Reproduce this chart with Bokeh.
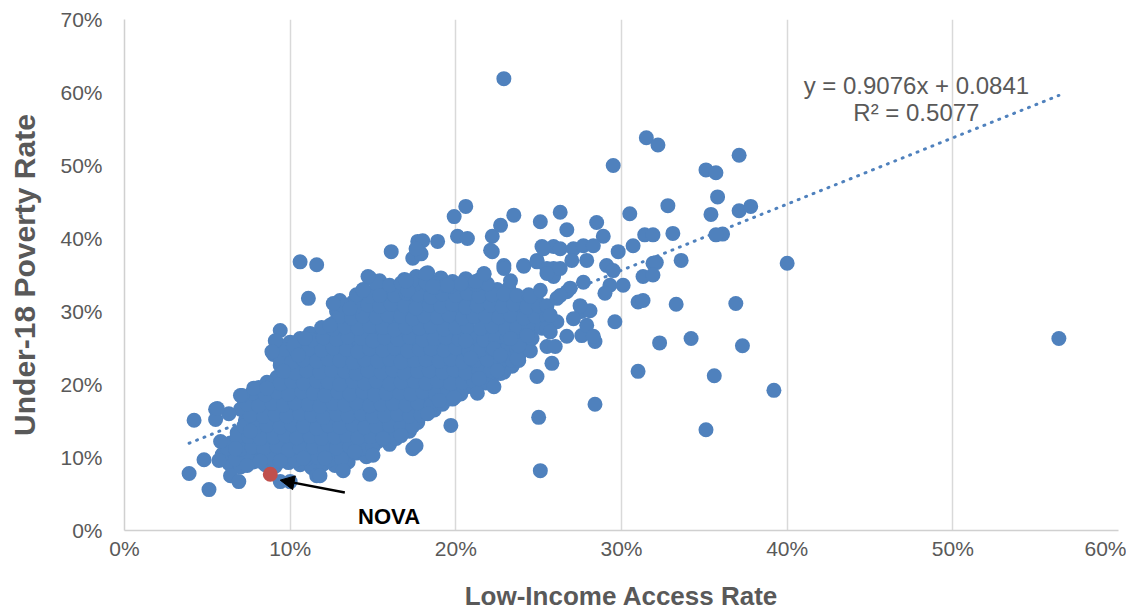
from bokeh.plotting import figure
from bokeh.models import NumeralTickFormatter, FixedTicker, Arrow, NormalHead, Label
from bokeh.embed import file_html
from bokeh.resources import INLINE
import numpy as np

# ---- data (percent values) ----
# dense core of counties, read row by row
core_x = [
    6.3, 7.0, 7.8, 8.5, 9.1, 9.9, 10.6, 11.3, 12.0, 12.7, 13.5,
    5.9, 6.6, 7.3, 8.1, 8.8, 9.6, 10.3, 11.0, 11.8, 12.5, 13.2, 14.0, 14.6,
    6.4, 7.1, 7.9, 8.6, 9.4, 10.1, 10.8, 11.6, 12.3, 13.1, 13.8, 14.6, 15.3, 16.0,
    6.8, 7.5, 8.3, 9.0, 9.8, 10.5, 11.2, 12.0, 12.7, 13.5, 14.2, 14.9, 15.7, 16.4, 17.2,
    7.3, 8.1, 8.8, 9.5, 10.3, 11.0, 11.7, 12.5, 13.2, 14.0, 14.7, 15.4, 16.2, 16.9, 17.7,
    7.0, 7.7, 8.5, 9.2, 9.9, 10.7, 11.4, 12.2, 12.9, 13.6, 14.4, 15.1, 15.9, 16.6, 17.3, 18.1, 18.7,
    7.2, 8.0, 8.7, 9.5, 10.2, 10.9, 11.7, 12.4, 13.2, 13.9, 14.6, 15.4, 16.1, 16.9, 17.6, 18.3, 19.1, 19.8,
    8.1, 8.9, 9.6, 10.4, 11.1, 11.8, 12.6, 13.3, 14.1, 14.8, 15.5, 16.3, 17.0, 17.8, 18.5, 19.2, 20.0, 20.7,
    9.2, 9.9, 10.7, 11.4, 12.2, 12.9, 13.6, 14.4, 15.1, 15.8, 16.6, 17.3, 18.1, 18.8, 19.5, 20.3, 21.0, 21.7, 22.3,
    9.4, 10.1, 10.9, 11.6, 12.3, 13.1, 13.8, 14.6, 15.3, 16.0, 16.8, 17.5, 18.3, 19.0, 19.7, 20.5, 21.2, 22.0, 22.7, 23.4,
    9.0, 9.7, 10.5, 11.2, 12.0, 12.7, 13.4, 14.2, 14.9, 15.7, 16.4, 17.1, 17.9, 18.6, 19.4, 20.1, 20.8, 21.6, 22.3, 23.1, 23.8,
    9.3, 10.0, 10.8, 11.5, 12.3, 13.0, 13.7, 14.5, 15.2, 16.0, 16.7, 17.4, 18.2, 18.9, 19.7, 20.4, 21.1, 21.9, 22.6, 23.4, 24.1,
    11.2, 11.9, 12.7, 13.4, 14.2, 14.9, 15.6, 16.4, 17.1, 17.9, 18.6, 19.3, 20.1, 20.8, 21.6, 22.3, 23.0, 23.8, 24.5,
    12.6, 13.3, 14.1, 14.8, 15.5, 16.3, 17.0, 17.8, 18.5, 19.2, 20.0, 20.7, 21.5, 22.2, 22.9, 23.7, 24.4, 25.2, 25.9,
    12.8, 13.5, 14.3, 15.0, 15.8, 16.5, 17.2, 18.0, 18.7, 19.5, 20.2, 20.9, 21.7, 22.4, 23.2, 23.9, 24.7, 25.4,
    13.0, 13.8, 14.5, 15.3, 16.0, 16.7, 17.5, 18.2, 19.0, 19.7, 20.4, 21.2, 21.9, 22.7, 23.4, 24.1, 24.9,
    14.4, 15.1, 15.9, 16.6, 17.4, 18.1, 18.8, 19.6, 20.3, 21.1, 21.8, 22.5, 23.2,
    14.8, 15.4, 16.9, 17.6, 18.4, 19.1, 19.8, 20.6, 21.4,
]
core_y = [
    9.2, 8.7, 9.4, 9.0, 8.8, 9.3, 9.0, 8.6, 9.1, 8.9, 9.4,
    10.4, 10.8, 10.2, 10.6, 10.9, 10.3, 10.7, 10.5, 10.2, 10.8, 10.4, 10.6, 10.1,
    12.0, 11.8, 12.3, 11.9, 12.2, 11.7, 12.1, 12.4, 11.8, 12.0, 12.3, 11.9, 12.2, 11.8,
    13.4, 13.7, 13.3, 13.6, 13.8, 13.2, 13.5, 13.7, 13.4, 13.6, 13.3, 13.8, 13.5, 13.2, 13.6,
    15.1, 14.8, 15.3, 14.9, 15.2, 15.0, 14.7, 15.3, 15.0, 14.8, 15.2, 14.9, 15.1, 15.3, 14.8,
    16.6, 16.3, 16.8, 16.4, 16.7, 16.2, 16.6, 16.9, 16.3, 16.5, 16.8, 16.4, 16.6, 16.2, 16.7, 16.4, 16.5,
    18.0, 18.3, 17.8, 18.1, 18.4, 17.9, 18.2, 17.7, 18.0, 18.3, 17.9, 18.1, 18.4, 17.8, 18.2, 17.9, 18.1, 18.0,
    19.6, 19.3, 19.7, 19.4, 19.8, 19.5, 19.2, 19.6, 19.4, 19.7, 19.3, 19.5, 19.8, 19.4, 19.6, 19.3, 19.5, 19.7,
    21.0, 21.3, 20.8, 21.2, 20.9, 21.4, 21.1, 20.8, 21.2, 21.0, 21.3, 20.9, 21.1, 21.4, 20.8, 21.0, 21.2, 20.9, 21.3,
    22.6, 22.3, 22.8, 22.4, 22.7, 22.2, 22.5, 22.8, 22.4, 22.6, 22.3, 22.7, 22.5, 22.2, 22.6, 22.8, 22.4, 22.6, 22.3, 22.5,
    24.1, 23.8, 24.2, 23.9, 24.3, 24.0, 23.7, 24.1, 24.3, 23.9, 24.0, 24.2, 23.8, 24.1, 24.3, 23.9, 24.0, 24.2, 23.8, 24.1, 23.9,
    25.5, 25.8, 25.3, 25.6, 25.4, 25.7, 25.2, 25.6, 25.8, 25.4, 25.5, 25.3, 25.7, 25.5, 25.2, 25.6, 25.4, 25.8, 25.3, 25.5, 25.6,
    27.0, 26.8, 27.3, 26.9, 27.2, 27.0, 26.7, 27.1, 27.3, 26.9, 27.0, 27.2, 26.8, 27.1, 27.3, 26.9, 27.0, 27.2, 26.8,
    28.4, 28.7, 28.3, 28.6, 28.8, 28.4, 28.5, 28.2, 28.7, 28.4, 28.6, 28.3, 28.8, 28.5, 28.2, 28.6, 28.4, 28.7, 28.5,
    30.0, 29.8, 30.2, 29.9, 30.3, 29.7, 30.1, 30.0, 29.8, 30.2, 29.9, 30.1, 29.7, 30.3, 30.0, 29.8, 30.1, 29.9,
    31.5, 31.3, 31.7, 31.4, 31.6, 31.2, 31.5, 31.8, 31.4, 31.6, 31.3, 31.5, 31.7, 31.4, 31.2, 31.6, 31.4,
    33.0, 32.8, 33.2, 32.9, 33.1, 32.7, 33.0, 33.3, 32.9, 33.1, 32.8, 33.0, 33.2,
    34.6, 34.2, 34.4, 34.8, 34.3, 34.6, 34.1, 34.5, 34.3,
]

# second, interleaved set of counties in the dense core
core2_x = [
    6.7, 7.4, 8.2, 8.9, 9.6, 10.3, 11.0, 11.7, 12.4, 13.1,
    6.2, 7.0, 7.7, 8.4, 9.2, 9.9, 10.6, 11.4, 12.1, 12.8, 13.6, 14.3, 15.0,
    6.8, 7.5, 8.2, 9.0, 9.7, 10.4, 11.2, 11.9, 12.7, 13.4, 14.1, 14.9, 15.6, 16.4,
    7.2, 7.9, 8.6, 9.4, 10.1, 10.8, 11.6, 12.3, 13.0, 13.8, 14.5, 15.2, 16.0, 16.7, 17.4,
    7.6, 8.4, 9.1, 9.8, 10.6, 11.3, 12.0, 12.8, 13.5, 14.3, 15.0, 15.7, 16.5, 17.2, 17.9,
    7.4, 8.1, 8.9, 9.6, 10.3, 11.1, 11.8, 12.6, 13.3, 14.0, 14.8, 15.5, 16.2, 17.0, 17.7, 18.5, 19.2,
    7.7, 8.5, 9.2, 9.9, 10.7, 11.4, 12.1, 12.9, 13.6, 14.4, 15.1, 15.8, 16.6, 17.3, 18.0, 18.8, 19.5, 20.3,
    8.6, 9.4, 10.1, 10.8, 11.6, 12.3, 13.0, 13.8, 14.5, 15.2, 16.0, 16.7, 17.5, 18.2, 18.9, 19.7, 20.4, 21.1, 21.8,
    9.6, 10.3, 11.0, 11.8, 12.5, 13.3, 14.0, 14.7, 15.5, 16.2, 16.9, 17.7, 18.4, 19.2, 19.9, 20.6, 21.4, 22.1, 22.9,
    9.4, 10.1, 10.8, 11.6, 12.3, 13.0, 13.8, 14.5, 15.3, 16.0, 16.7, 17.5, 18.2, 19.0, 19.7, 20.4, 21.2, 21.9, 22.7, 23.4,
    9.7, 10.4, 11.1, 11.9, 12.6, 13.4, 14.1, 14.8, 15.6, 16.3, 17.1, 17.8, 18.5, 19.3, 20.0, 20.8, 21.5, 22.2, 23.0, 23.7, 24.5,
    10.6, 11.3, 12.0, 12.8, 13.5, 14.3, 15.0, 15.7, 16.5, 17.2, 18.0, 18.7, 19.4, 20.2, 20.9, 21.7, 22.4, 23.1, 23.9, 24.6,
    11.9, 12.6, 13.3, 14.1, 14.8, 15.6, 16.3, 17.0, 17.8, 18.5, 19.3, 20.0, 20.7, 21.5, 22.2, 23.0, 23.7, 24.4, 25.2,
    13.0, 13.7, 14.4, 15.2, 15.9, 16.7, 17.4, 18.1, 18.9, 19.6, 20.4, 21.1, 21.8, 22.6, 23.3, 24.1, 24.8, 25.5,
    13.2, 13.9, 14.7, 15.4, 16.1, 16.9, 17.6, 18.4, 19.1, 19.8, 20.6, 21.3, 22.1, 22.8, 23.5, 24.3, 25.0,
    14.0, 14.8, 15.5, 16.3, 17.0, 17.7, 18.5, 19.2, 20.0, 20.7, 21.4, 22.2, 22.9, 23.7, 24.4,
    15.2, 16.0, 16.7, 17.5, 18.2, 18.9, 19.7, 20.4, 21.2, 21.9,
]
core2_y = [
    9.8, 10.0, 9.7, 9.9, 10.1, 9.6, 9.9, 10.0, 9.7, 9.8,
    11.3, 11.1, 11.4, 11.2, 11.5, 11.0, 11.3, 11.4, 11.1, 11.3, 11.5, 11.2, 11.4,
    12.8, 12.9, 12.6, 12.8, 13.0, 12.7, 12.9, 12.6, 12.8, 13.0, 12.7, 12.9, 12.8, 12.6,
    14.3, 14.1, 14.4, 14.2, 14.5, 14.3, 14.0, 14.4, 14.2, 14.5, 14.1, 14.3, 14.4, 14.2, 14.3,
    15.8, 15.6, 15.9, 15.7, 16.0, 15.8, 15.5, 15.9, 15.7, 16.0, 15.6, 15.8, 15.9, 15.7, 15.8,
    17.3, 17.1, 17.4, 17.2, 17.5, 17.3, 17.0, 17.4, 17.2, 17.5, 17.1, 17.3, 17.4, 17.2, 17.5, 17.1, 17.3,
    18.8, 18.6, 18.9, 18.7, 19.0, 18.8, 18.5, 18.9, 18.7, 19.0, 18.6, 18.8, 18.9, 18.7, 19.0, 18.6, 18.8, 18.7,
    20.3, 20.1, 20.4, 20.2, 20.5, 20.3, 20.0, 20.4, 20.2, 20.5, 20.1, 20.3, 20.4, 20.2, 20.5, 20.1, 20.3, 20.4, 20.2,
    21.8, 21.6, 21.9, 21.7, 22.0, 21.8, 21.5, 21.9, 21.7, 22.0, 21.6, 21.8, 21.9, 21.7, 22.0, 21.6, 21.8, 21.9, 21.7,
    23.3, 23.1, 23.4, 23.2, 23.5, 23.3, 23.0, 23.4, 23.2, 23.5, 23.1, 23.3, 23.4, 23.2, 23.5, 23.1, 23.3, 23.4, 23.2, 23.3,
    24.8, 24.6, 24.9, 24.7, 25.0, 24.8, 24.5, 24.9, 24.7, 25.0, 24.6, 24.8, 24.9, 24.7, 25.0, 24.6, 24.8, 24.9, 24.7, 24.8, 24.6,
    26.3, 26.1, 26.4, 26.2, 26.5, 26.3, 26.0, 26.4, 26.2, 26.5, 26.1, 26.3, 26.4, 26.2, 26.5, 26.1, 26.3, 26.4, 26.2, 26.3,
    27.8, 27.6, 27.9, 27.7, 28.0, 27.8, 27.5, 27.9, 27.7, 28.0, 27.6, 27.8, 27.9, 27.7, 28.0, 27.6, 27.8, 27.9, 27.7,
    29.3, 29.1, 29.4, 29.2, 29.5, 29.3, 29.0, 29.4, 29.2, 29.5, 29.1, 29.3, 29.4, 29.2, 29.5, 29.1, 29.3, 29.2,
    30.8, 30.6, 30.9, 30.7, 31.0, 30.8, 30.5, 30.9, 30.7, 31.0, 30.6, 30.8, 30.9, 30.7, 31.0, 30.6, 30.8,
    32.3, 32.1, 32.4, 32.2, 32.5, 32.3, 32.0, 32.4, 32.2, 32.5, 32.1, 32.3, 32.4, 32.2, 32.3,
    33.8, 33.6, 33.9, 33.7, 34.0, 33.8, 33.5, 33.9, 33.7, 33.8,
]

# lower-left edge of the cloud
low_x = [4.2, 5.5, 5.5, 6.3, 5.8, 4.8, 5.7, 3.9, 5.1, 6.7, 6.4, 6.9, 7.1, 7.8, 8.6, 7.6,
         7.4, 9.4, 10.0, 8.2, 9.4, 11.6, 13.2, 14.8, 13.9, 12.1, 10.8, 7.0, 5.6, 11.8,
         15.6, 16.7, 15.0, 17.4, 17.6, 19.7, 19.9, 19.0, 18.3, 21.3, 22.3, 22.7, 23.8,
         24.9, 25.8, 25.0, 25.1, 28.4, 21.4, 22.5, 23.7]
low_y = [15.1, 16.6, 15.2, 16.0, 12.2, 9.7, 9.6, 7.8, 5.6, 11.2, 7.5, 6.7, 18.5, 19.5, 19.5, 13.6,
         8.9, 6.7, 6.7, 9.5, 9.5, 7.5, 8.2, 7.7, 10.8, 9.9, 9.9, 18.5, 16.7, 7.5,
         12.6, 13.0, 10.3, 11.2, 11.6, 14.4, 18.2, 17.8, 16.0, 18.8, 19.7, 21.5, 23.3,
         21.1, 22.9, 15.5, 8.2, 17.3, 20.8, 21.9, 23.6]

# upper-left edge and upper band of the cloud
up_x = [10.6, 11.6, 11.1, 16.1, 9.4, 9.1, 8.9, 10.2, 10.5, 9.6, 14.7, 14.4, 12.6, 12.4,
        10.9, 13.6, 19.9, 20.6, 20.1, 20.7, 17.7, 18.9, 17.4, 17.9, 18.3, 18.0, 17.6,
        17.3, 17.1, 18.8, 22.2, 22.2, 22.7, 23.5, 22.9, 21.7, 21.2, 24.1, 25.1, 26.3,
        25.2, 25.9, 24.9, 25.9, 19.4, 20.3, 15.4, 22.1, 18.2, 17.0, 18.6, 19.5, 21.7,
        23.3, 24.1, 24.9, 25.5, 25.9, 22.9, 24.5, 25.5, 25.1, 20.6, 20.9, 22.3, 22.7,
        23.8, 23.3, 24.3]
up_y = [36.8, 36.4, 31.8, 38.2, 27.4, 26.0, 24.5, 25.3, 24.0, 21.8, 34.8, 32.9, 31.1, 28.1,
        26.3, 30.4, 43.0, 44.4, 40.3, 40.0, 39.6, 39.6, 37.3, 37.9, 35.3, 39.7, 38.6,
        34.1, 32.9, 33.4, 40.3, 38.2, 41.8, 43.2, 36.3, 35.1, 34.1, 36.3, 42.3, 43.6,
        38.9, 38.9, 37.0, 35.9, 33.6, 33.8, 32.2, 38.4, 35.2, 34.2, 33.4, 33.6, 35.2,
        34.2, 36.2, 36.8, 35.9, 34.8, 35.9, 32.1, 30.8, 32.9, 26.0, 23.6, 24.9, 24.0,
        25.3, 26.3, 26.7]

# right side of the cloud and outliers
right_x = [28.5, 30.5, 32.8, 26.7, 31.4, 33.1, 28.9, 25.3, 26.3, 27.1, 27.7, 28.3, 27.0,
           27.9, 29.8, 30.7, 31.9, 32.1, 33.6, 29.1, 29.5, 31.3, 29.3, 30.1, 29.0, 27.7,
           31.0, 31.3, 33.3, 29.6, 32.3, 34.2, 31.0, 28.4, 27.6, 26.7, 25.5, 26.0, 27.9,
           27.6, 27.1, 28.1, 26.7, 26.1, 27.5, 26.1, 25.5, 26.9, 26.3, 25.7, 28.3, 25.7,
           31.9, 22.9, 29.5, 31.5, 32.2, 35.1, 35.7, 37.1, 35.8, 35.4, 37.1, 37.8, 36.1,
           35.7, 31.9, 40.0, 36.9, 37.3, 35.6, 39.2, 35.1, 56.4, 25.5, 26.3]
right_y = [42.2, 43.4, 44.5, 41.2, 40.5, 40.7, 40.3, 38.6, 38.6, 38.6, 39.0, 39.0, 37.0,
           37.0, 38.2, 39.0, 36.6, 36.7, 37.0, 36.3, 35.6, 34.8, 33.6, 33.6, 32.5, 34.0,
           31.3, 31.5, 31.0, 28.6, 25.7, 26.3, 21.8, 25.9, 26.7, 26.6, 25.2, 25.2, 28.1,
           30.0, 29.0, 30.1, 32.7, 31.8, 30.8, 28.6, 27.7, 33.2, 32.2, 29.5, 26.6, 27.2,
           35.0, 61.9, 50.0, 53.8, 52.8, 49.4, 49.0, 51.4, 45.7, 43.3, 43.8, 44.4, 40.6,
           40.5, 40.5, 36.6, 31.1, 25.3, 21.2, 19.2, 13.8, 26.3, 35.2, 35.9]

nova_x = [8.8]
nova_y = [7.7]

slope, intercept = 0.9076, 0.0841
x_ticks = [0, 0.1, 0.2, 0.3, 0.4, 0.5, 0.6]
y_ticks = [0, 0.1, 0.2, 0.3, 0.4, 0.5, 0.6, 0.7]

# ---- build ----
blue = "#4F81BD"
grey_txt = "#595959"
bx = np.array(core_x + core2_x + low_x + up_x + right_x) / 100.0
by = np.array(core_y + core2_y + low_y + up_y + right_y) / 100.0
nx = np.array(nova_x) / 100.0
ny = np.array(nova_y) / 100.0
all_x = np.concatenate([bx, nx])

p = figure(frame_width=994, frame_height=511, x_range=(0, 0.6), y_range=(0, 0.7),
           output_backend="svg", toolbar_location=None,
           min_border_left=124, min_border_right=8, min_border_top=19, min_border_bottom=60)
p.background_fill_color = "white"
p.border_fill_color = "white"
p.outline_line_color = None

# trendline (drawn beneath points)
tx = np.array([all_x.min(), all_x.max()])
p.line(tx, slope * tx + intercept, line_color=blue, line_width=3,
       line_dash="1 7", line_cap="round")

p.scatter(bx, by, size=15, fill_color=blue, line_color=None)
p.scatter(nx, ny, size=15, fill_color="#C0504D", line_color=None)

# axes
for ax, ticks in ((p.xaxis, x_ticks), (p.yaxis, y_ticks)):
    ax.ticker = FixedTicker(ticks=ticks)
    ax.formatter = NumeralTickFormatter(format="0%")
    ax.major_tick_line_color = None
    ax.minor_tick_line_color = None
    ax.axis_line_color = "#D0D0D0"
    ax.axis_line_width = 1.5
    ax.major_label_text_font = "Liberation Sans"
    ax.major_label_text_font_size = "21px"
    ax.major_label_text_color = grey_txt
    ax.axis_label_text_font = "Liberation Sans"
    ax.axis_label_text_font_style = "bold"
    ax.axis_label_text_color = grey_txt

p.xaxis.axis_label = "Low-Income Access Rate"
p.yaxis.axis_label = "Under-18 Poverty Rate"
p.xaxis.axis_label_text_font_size = "26px"
p.yaxis.axis_label_text_font_size = "30px"
p.xaxis.major_label_standoff = 0
p.xaxis.axis_label_standoff = 18
p.yaxis.major_label_standoff = 16
p.yaxis.axis_label_standoff = 16

p.xgrid.ticker = FixedTicker(ticks=x_ticks)
p.xgrid.grid_line_color = "#D9D9D9"
p.xgrid.grid_line_width = 1.5
p.ygrid.grid_line_color = None

# annotations
p.add_layout(Label(x=0.478, y=0.61, text="y = 0.9076x + 0.0841", text_align="center",
                   text_baseline="middle", text_font="Liberation Sans",
                   text_font_size="24px", text_color=grey_txt))
p.add_layout(Label(x=0.478, y=0.573, text="R² = 0.5077", text_align="center",
                   text_baseline="middle", text_font="Liberation Sans",
                   text_font_size="24px", text_color=grey_txt))
p.add_layout(Arrow(end=NormalHead(size=14, fill_color="black", line_color="black"),
                   x_start=0.133, y_start=0.052, x_end=0.094, y_end=0.069,
                   line_color="black", line_width=2.5))
p.add_layout(Label(x=0.141, y=0.019, text="NOVA", text_align="left",
                   text_baseline="middle", text_font="Liberation Sans",
                   text_font_style="bold", text_font_size="22px", text_color="black"))

open("out.html", "w").write(file_html(p, INLINE))
